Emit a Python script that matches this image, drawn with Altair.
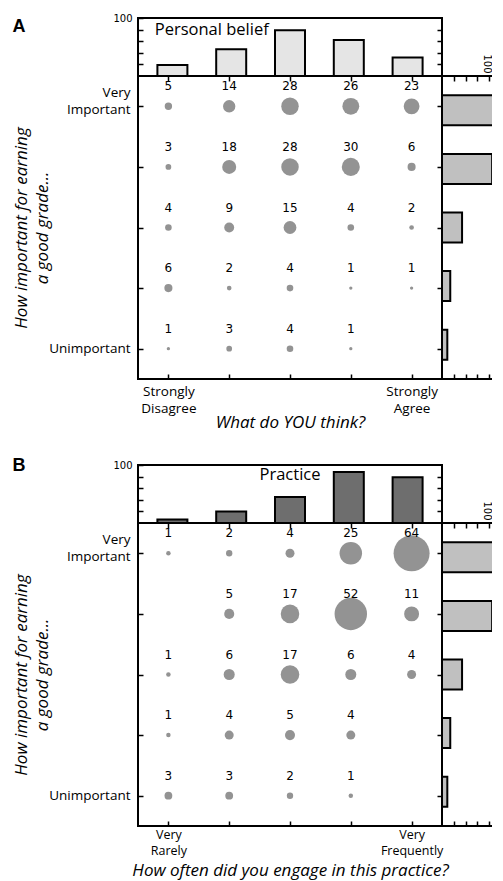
import altair as alt
import pandas as pd

# ---------------- data ----------------
cols = [1, 2, 3, 4, 5]
rows = [5, 4, 3, 2, 1]  # 5 = Very Important (top), 1 = Unimportant (bottom)

# panel A: counts per (row, column); rows listed top -> bottom
a_counts = [
    [5, 14, 28, 26, 23],
    [3, 18, 28, 30, 6],
    [4, 9, 15, 4, 2],
    [6, 2, 4, 1, 1],
    [1, 3, 4, 1, None],
]
# panel B
b_counts = [
    [1, 2, 4, 25, 64],
    [None, 5, 17, 52, 11],
    [1, 6, 17, 6, 4],
    [1, 4, 5, 4, None],
    [3, 3, 2, 1, None],
]
a_top = [19, 46, 79, 62, 32]
b_top = [6, 20, 45, 88, 79]
grade = [96, 85, 34, 14, 9]  # rows top -> bottom

a_xlabels = ["['Strongly','Disagree']", "['Strongly','Agree']"]
b_xlabels = ["['Very','Rarely']", "['Very','Frequently']"]

# panel captions inside the top histograms (position in data units)
a_caption = {"label": ["Personal belief"], "col": [0.70], "pct": [71], "align": "left"}
b_caption = {"label": ["Practice"], "col": [3.0], "pct": [74], "align": "center"}

LABEL_FONT = "Open Sans"
NUM_FONT = "DejaVu Sans"
W, H, TH, RW = 304, 303, 58, 59


def top_chart(vals, fill, caption, letter, letter_y):
    df = pd.DataFrame({"col": cols, "pct": vals})
    xs = alt.Scale(domain=[0.5, 5.5])
    ys = alt.Scale(domain=[0, 100])
    left = alt.Chart(df).mark_bar(size=30, fill=fill, stroke="black", strokeWidth=2).encode(
        x=alt.X("col:Q", scale=xs, axis=None),
        y=alt.Y("pct:Q", scale=ys, axis=alt.Axis(
            orient="left", values=[20, 40, 60, 80, 100], tickSize=5, offset=-5,
            domain=False, grid=False,
            labelExpr="datum.value == 100 ? '100' : ''",
            labelFont=NUM_FONT, labelFontSize=10, labelPadding=6,
            title=letter, titleAngle=0, titleX=-131, titleY=letter_y,
            titleAlign="left", titleBaseline="alphabetic",
            titleFont="Liberation Sans", titleFontSize=18, titleFontWeight="bold")),
    )
    right = alt.Chart(df).mark_bar(size=30, opacity=0).encode(
        x=alt.X("col:Q", scale=xs, axis=None),
        y=alt.Y("pct:Q", scale=ys, axis=alt.Axis(
            orient="right", values=[20, 40, 60, 80], tickSize=5, offset=-5,
            domain=False, grid=False, labels=False, title=None)),
    )
    cap = alt.Chart(pd.DataFrame({k: caption[k] for k in ("label", "col", "pct")})).mark_text(
        align=caption["align"], baseline="alphabetic", font=LABEL_FONT, fontSize=16.5,
        color="black").encode(
        x=alt.X("col:Q", scale=xs, axis=None),
        y=alt.Y("pct:Q", scale=ys, axis=None),
        text="label:N",
    )
    return alt.layer(left, right, cap).resolve_axis(y="independent").properties(
        width=W, height=TH)


def main_chart(counts, dmax, rmax, xlabels, xtitle, xtitle_y, lab_pad, lab_size, lab_lh):
    recs = []
    for i, r in enumerate(rows):
        for j, c in enumerate(cols):
            if counts[i][j] is not None:
                recs.append({"col": c, "row": r, "n": counts[i][j]})
    df = pd.DataFrame(recs)
    xs = alt.Scale(domain=[0.5, 5.5])
    ys = alt.Scale(domain=[0.5, 5.5])
    pts = alt.Chart(df).mark_circle(color="#939393", opacity=1).encode(
        x=alt.X("col:Q", scale=xs, axis=alt.Axis(
            orient="bottom", values=cols, tickSize=5, offset=-5, domain=False, grid=False,
            labelExpr=f"datum.value == 1 ? {xlabels[0]} : datum.value == 5 ? {xlabels[1]} : ''",
            labelFont=LABEL_FONT, labelFontSize=lab_size, labelLineHeight=lab_lh,
            labelPadding=lab_pad,
            labelFlush=False, labelOverlap=False, labelBaseline="top",
            title=xtitle, titleFont=LABEL_FONT, titleFontSize=17, titleFontStyle="italic",
            titleFontWeight="normal", titleX=W / 2, titleY=xtitle_y, titleBaseline="top",
            titleAlign="center")),
        y=alt.Y("row:Q", scale=ys, axis=alt.Axis(
            orient="left", values=rows, tickSize=5, offset=-5, domain=False, grid=False,
            labelExpr="datum.value == 5 ? ['Very','Important'] : datum.value == 1 ? 'Unimportant' : ''",
            labelFont=LABEL_FONT, labelFontSize=13.5, labelLineHeight=17, labelPadding=8,
            labelOffset={"condition": {"test": "datum.value == 5", "value": -14}, "value": 0},
            labelOverlap=False, labelFlush=False,
            title=["How important for earning", "a good grade..."],
            titleFont=LABEL_FONT, titleFontSize=17, titleFontStyle="italic",
            titleFontWeight="normal", titleLineHeight=21, titleAngle=270,
            titleX=-130, titleY=H / 2, titleBaseline="top", titleAlign="center")),
        size=alt.Size("n:Q", scale=alt.Scale(type="linear", domain=[0, dmax], range=[0, rmax]),
                      legend=None),
    )
    txt = alt.Chart(df).mark_text(dy=-20, font=NUM_FONT, fontSize=12, color="black",
                                  baseline="middle").encode(
        x=alt.X("col:Q", scale=xs, axis=alt.Axis(
            orient="top", values=cols, tickSize=5, offset=-5, domain=False, grid=False,
            labels=False, title=None)),
        y=alt.Y("row:Q", scale=ys, axis=alt.Axis(
            orient="right", values=rows, tickSize=5, offset=-5, domain=False, grid=False,
            labels=False, title=None)),
        text="n:Q",
    )
    return alt.layer(pts, txt).resolve_axis(x="independent", y="independent").properties(
        width=W, height=H)


def right_chart():
    df = pd.DataFrame({"row": rows, "pct": grade})
    ys = alt.Scale(domain=[0.5, 5.5])
    xs = alt.Scale(domain=[0, 100])
    bars = alt.Chart(df).mark_bar(orient="horizontal", size=30, fill="#c0c0c0",
                                  stroke="black", strokeWidth=2).encode(
        y=alt.Y("row:Q", scale=ys, axis=alt.Axis(
            orient="left", ticks=False, labels=False, domain=False, grid=False,
            title="Grade", titleAngle=90, titleX=43, titleY=H / 2, titleAlign="center",
            titleBaseline="middle", titleFont=NUM_FONT, titleFontSize=16,
            titleFontWeight="normal")),
        x=alt.X("pct:Q", scale=xs, axis=alt.Axis(
            orient="bottom", values=[20, 40, 60, 80], tickSize=5, offset=-5,
            labels=False, domain=False, grid=False, title=None)),
    )
    top = alt.Chart(df).mark_bar(orient="horizontal", size=30, opacity=0).encode(
        y=alt.Y("row:Q", scale=ys, axis=None),
        x=alt.X("pct:Q", scale=xs, axis=alt.Axis(
            orient="top", values=[20, 40, 60, 80, 100], tickSize=5, offset=-5,
            labelExpr="datum.value == 100 ? '100' : ''", labelAngle=90,
            labelAlign="right", labelBaseline="middle", labelFont=NUM_FONT,
            labelFontSize=10, labelPadding=3, labelOffset=-15, labelFlush=False,
            labelOverlap=False, domain=False, grid=False, title=None)),
    )
    return alt.layer(bars, top).resolve_axis(x="independent").properties(width=RW, height=H)


def spacer(w, h):
    return alt.Chart(pd.DataFrame({"v": [0]})).mark_point(opacity=0).encode(
        x=alt.X("v:Q", axis=None), y=alt.Y("v:Q", axis=None)
    ).properties(width=w, height=h, view=alt.ViewBackground(strokeOpacity=0))


topA = top_chart(a_top, "#e5e5e5", a_caption, "A", 13)
mainA = main_chart(a_counts, 30, 327, a_xlabels, "What do YOU think?", 40, 5, 13.5, 17)
rightA = right_chart()
topB = top_chart(b_top, "#6e6e6e", b_caption, "B", 5)
mainB = main_chart(b_counts, 64, 1296, b_xlabels, "How often did you engage in this practice?",
                   41.5, 2, 12.5, 16)
rightB = right_chart()

chart = alt.concat(
    topA, spacer(RW, TH),
    mainA, rightA,
    spacer(W, 86), spacer(RW, 86),
    topB, spacer(RW, TH),
    mainB, rightB,
    columns=2, spacing=0, bounds="flush",
).resolve_scale(
    size="independent"
).properties(
    padding={"left": 3, "top": 4, "right": -11, "bottom": 0}
).configure_view(
    stroke="black", strokeWidth=2
).configure_axis(
    tickColor="black", tickWidth=1.5, labelColor="black", titleColor="black"
)

chart.save("out.html", embed_options={"renderer": "svg", "actions": False})
